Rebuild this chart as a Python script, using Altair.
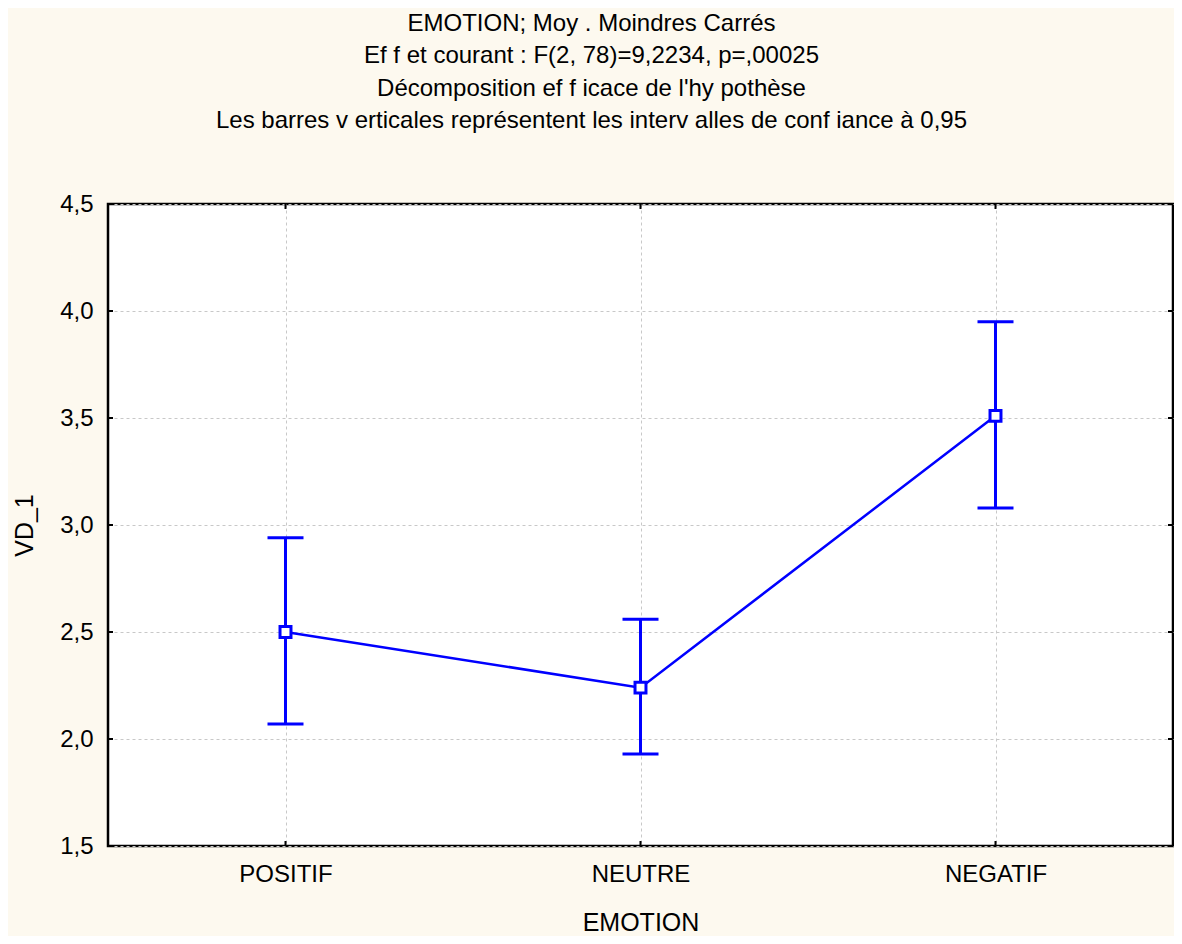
import altair as alt
import pandas as pd

categories = ["POSITIF", "NEUTRE", "NEGATIF"]
means = [2.50, 2.24, 3.51]
ci_low = [2.07, 1.93, 3.08]
ci_high = [2.94, 2.56, 3.95]
y_ticks = [1.5, 2.0, 2.5, 3.0, 3.5, 4.0, 4.5]

title_lines = [
    "EMOTION; Moy . Moindres Carrés",
    "Ef f et courant : F(2, 78)=9,2234, p=,00025",
    "Décomposition ef f icace de l'hy pothèse",
    "Les barres v erticales représentent les interv alles de conf iance à 0,95",
]

W, H = 1065, 642
BLUE = "#0000FF"
FONT = "Liberation Sans"

df = pd.DataFrame({"EMOTION": categories, "VD_1": means, "low": ci_low, "high": ci_high})
ticks_df = pd.DataFrame({"v": y_ticks})

xenc = alt.X("EMOTION:N", sort=categories, title="EMOTION",
             scale=alt.Scale(type="point", padding=0.5))
yscale = alt.Scale(domain=[1.5, 4.5], nice=False, zero=False)

base = alt.Chart(df)

line = base.mark_line(color=BLUE, strokeWidth=2.5).encode(
    x=xenc,
    y=alt.Y("VD_1:Q", scale=yscale, title="VD_1",
            axis=alt.Axis(values=y_ticks,
                          labelExpr="replace(format(datum.value, '.1f'), '.', ',')")),
)

err = base.mark_rule(color=BLUE, strokeWidth=3).encode(
    x=xenc,
    y=alt.Y("low:Q", title="VD_1"),
    y2="high:Q",
)

cap_hi = base.mark_tick(color=BLUE, size=36, thickness=3, opacity=1).encode(
    x=xenc, y=alt.Y("high:Q", title="VD_1"))
cap_lo = base.mark_tick(color=BLUE, size=36, thickness=3, opacity=1).encode(
    x=xenc, y=alt.Y("low:Q", title="VD_1"))

pts = base.mark_point(shape="square", filled=True, fill="white", stroke=BLUE,
                      strokeWidth=3, size=120, opacity=1).encode(
    x=xenc, y=alt.Y("VD_1:Q", title="VD_1"))

# inward tick marks on the frame
yt_left = alt.Chart(ticks_df).mark_rule(color="black", strokeWidth=2).encode(
    y=alt.Y("v:Q", title="VD_1"), x=alt.value(0), x2=alt.value(5))
yt_right = alt.Chart(ticks_df).mark_rule(color="black", strokeWidth=2).encode(
    y=alt.Y("v:Q", title="VD_1"), x=alt.value(W - 5), x2=alt.value(W))
xt_top = base.mark_rule(color="black", strokeWidth=2).encode(
    x=xenc, y=alt.value(0), y2=alt.value(5))
xt_bot = base.mark_rule(color="black", strokeWidth=2).encode(
    x=xenc, y=alt.value(H - 5), y2=alt.value(H))

chart = alt.layer(line, err, cap_hi, cap_lo, pts, yt_left, yt_right, xt_top, xt_bot).properties(
    width=W,
    height=H,
    padding={"left": 100, "top": 196, "right": 1, "bottom": 90},
    autosize=alt.AutoSizeParams(type="none"),
    title=alt.TitleParams(
        text=title_lines, fontSize=24, font=FONT, fontWeight="normal", color="black",
        lineHeight=32.3, anchor="middle", frame="group", dx=-49, offset=59,
    ),
).configure(
    background="#FDF9EF",
    font=FONT,
).configure_view(
    fill="white", stroke="black", strokeWidth=2.5,
).configure_axis(
    grid=True, gridColor="#c8c8c8", gridDash=[3, 3], gridWidth=1,
    domain=False, ticks=False, tickSize=0,
    labelFont=FONT, labelFontSize=24, labelColor="black",
    titleFont=FONT, titleFontSize=25, titleColor="black", titleFontWeight="normal",
).configure_axisX(
    labelPadding=16, labelAngle=0, titleX=W / 2, titleY=64,
    titleBaseline="top", titleAlign="center",
).configure_axisY(
    labelPadding=15, titleX=-84, titleY=H / 2, titleAngle=270,
    titleBaseline="middle", titleAlign="center",
)

chart.save("out.html", embed_options={"renderer": "svg", "actions": False})
